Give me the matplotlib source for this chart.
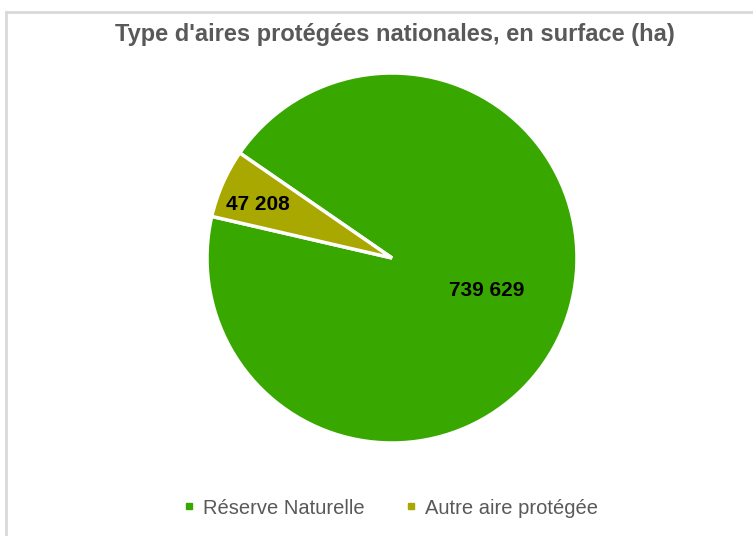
import matplotlib
matplotlib.use('Agg')
import matplotlib.pyplot as plt
import numpy as np
from matplotlib.lines import Line2D

plt.rcParams['font.family'] = ['Liberation Sans', 'DejaVu Sans']

# Data
categories = ['Réserve Naturelle', 'Autre aire protégée']
surfaces = [739629, 47208]
value_labels = ['739 629', '47 208']
colors = ['#38A800', '#A8A800']
title = "Type d'aires protégées nationales, en surface (ha)"

fig = plt.figure(figsize=(7.53, 5.36), dpi=100)
fig.patch.set_facecolor('white')

# chart frame (light gray)
fig.add_artist(Line2D([5.5/753, 5.5/753], [0, 1 - 11.5/536], transform=fig.transFigure,
                      color='#D9D9D9', lw=2))
fig.add_artist(Line2D([5.5/753, 1], [1 - 11.5/536, 1 - 11.5/536], transform=fig.transFigure,
                      color='#D9D9D9', lw=2))

ax = fig.add_axes([207/753, 1 - 443/536, 370/753, 370/536])
wedges, _ = ax.pie(surfaces, colors=colors, startangle=145.4, counterclock=False,
                   radius=1, wedgeprops=dict(edgecolor='white', linewidth=2.5))
ax.set_xlim(-1, 1)
ax.set_ylim(-1, 1)
ax.set_aspect('auto')
ax.axis('off')

# data labels placed along each wedge's middle angle
label_dist = [0.54, 0.78]
label_shift = [5, 2]
for w, lab, d, s in zip(wedges, value_labels, label_dist, label_shift):
    ang = np.deg2rad((w.theta1 + w.theta2) / 2 + s)
    ax.text(d * np.cos(ang), d * np.sin(ang), lab, ha='center', va='center',
            fontsize=15, fontweight='bold', color='black')

fig.text(0.5245, 1 - 35/536, title, ha='center', va='center', fontsize=17,
         fontweight='bold', color='#595959')

handles = [Line2D([], [], marker='s', linestyle='none', markersize=5,
                  markerfacecolor=c, markeredgecolor=c) for c in colors]
fig.legend(handles, categories, loc='center', bbox_to_anchor=(0.519, 1 - 508/536),
           ncol=2, frameon=False, fontsize=14.5, handlelength=0.6, handletextpad=0.4,
           columnspacing=2.0, labelcolor='#595959')

plt.savefig('out.png', dpi=100)
